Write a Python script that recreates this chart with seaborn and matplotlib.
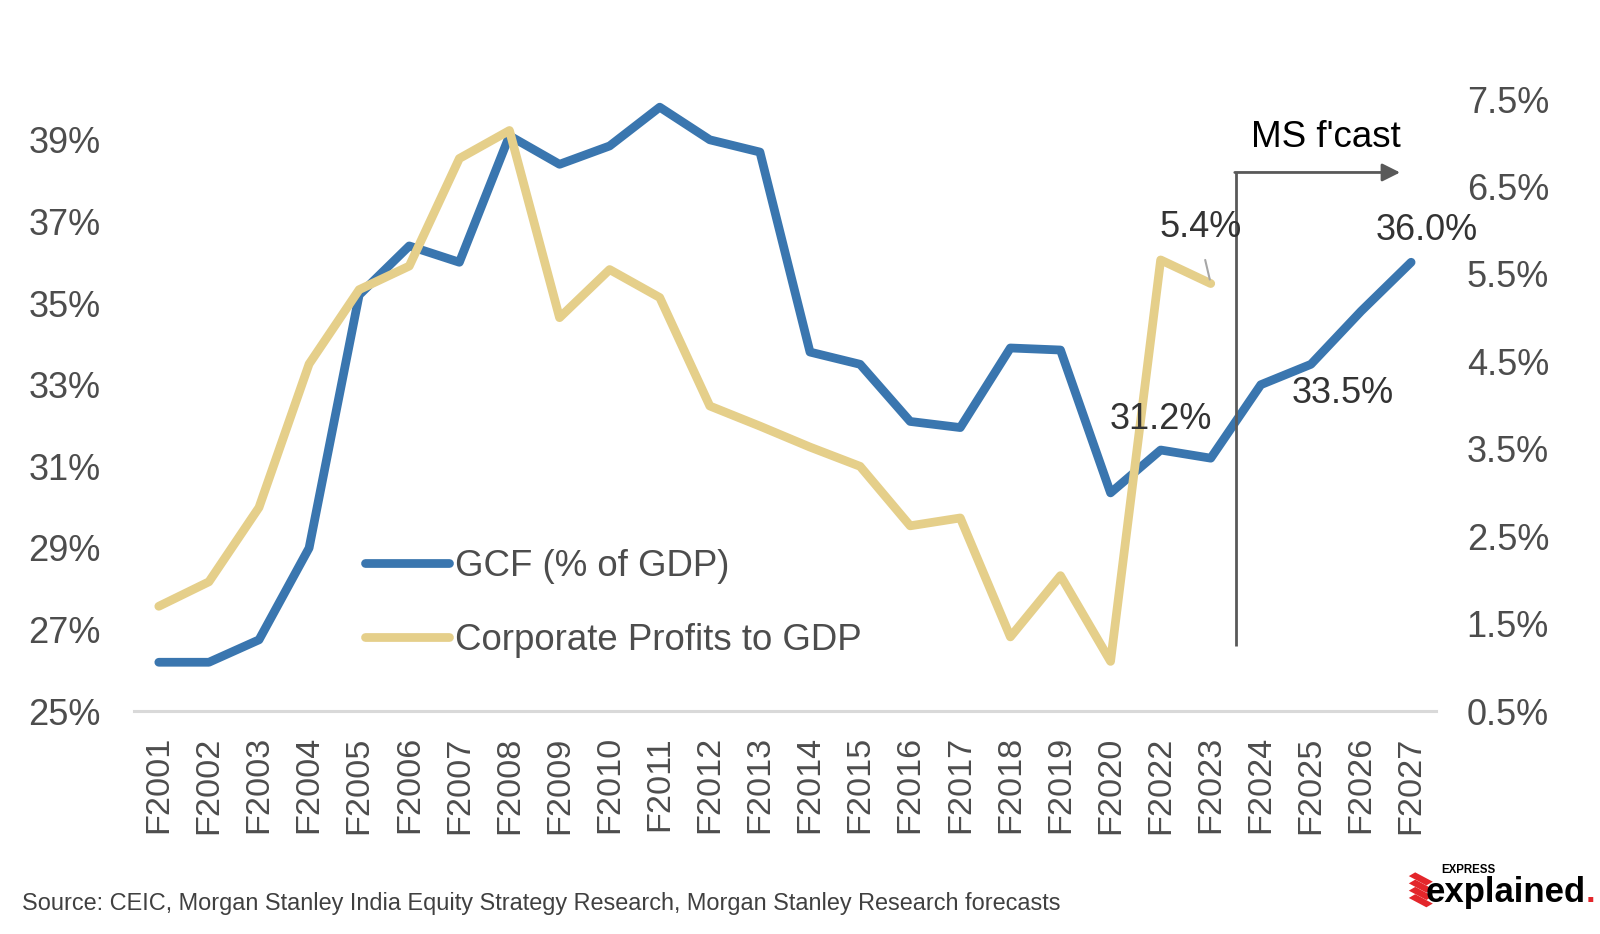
import numpy as np
import pandas as pd
import matplotlib
matplotlib.use("Agg")
import matplotlib.pyplot as plt
from matplotlib.patches import Polygon
import seaborn as sns

# ---------------- data ----------------
years = ["F2001", "F2002", "F2003", "F2004", "F2005", "F2006", "F2007", "F2008",
         "F2009", "F2010", "F2011", "F2012", "F2013", "F2014", "F2015", "F2016",
         "F2017", "F2018", "F2019", "F2020", "F2022", "F2023", "F2024", "F2025",
         "F2026", "F2027"]
gcf = [26.2, 26.2, 26.75, 29.0, 35.2, 36.4, 36.0, 39.1, 38.4, 38.85, 39.8, 39.0,
       38.7, 33.8, 33.5, 32.1, 31.95, 33.9, 33.85, 30.35, 31.4, 31.2, 33.0, 33.5,
       34.8, 36.0]
profits = [1.70, 1.98, 2.83, 4.47, 5.32, 5.59, 6.82, 7.14, 5.00, 5.55, 5.23, 3.99,
           3.76, 3.52, 3.30, 2.62, 2.71, 1.35, 2.05, 1.07, 5.66, 5.39,
           np.nan, np.nan, np.nan, np.nan]
left_ticks = [25, 27, 29, 31, 33, 35, 37, 39]
right_ticks = [0.5, 1.5, 2.5, 3.5, 4.5, 5.5, 6.5, 7.5]
series_names = ["GCF (% of GDP)", "Corporate Profits to GDP"]
source_text = ("Source: CEIC, Morgan Stanley India Equity Strategy Research, "
               "Morgan Stanley Research forecasts")

BLUE = "#3a76af"
GOLD = "#e5cf8a"
TXT = "#4d4d4d"
ARROW = "#595959"
FS = 26

sns.set_theme(style="white")
plt.rcParams["font.family"] = ["Liberation Sans", "DejaVu Sans"]

df = pd.DataFrame({"pos": np.arange(len(years)), "year": years,
                   "gcf": gcf, "profits": profits})

fig = plt.figure(figsize=(16, 9.34), dpi=100)
ax = fig.add_axes([0.0836, 0.2385, 0.814, 0.6555])
ax2 = ax.twinx()

sns.lineplot(data=df, x="pos", y="gcf", ax=ax, color=BLUE, linewidth=6.3,
             label=series_names[0], legend=False)
sns.lineplot(data=df.dropna(), x="pos", y="profits", ax=ax2, color=GOLD,
             linewidth=6.3, label=series_names[1], legend=False)
for a in (ax, ax2):
    for ln in a.lines:
        ln.set_solid_capstyle("round")
        ln.set_solid_joinstyle("round")

ax.set_xlim(-0.5, len(years) - 0.5)
ax.set_ylim(25, 40)
ax2.set_ylim(0.5, 7.5)
ax.set_xticks(df["pos"], years, rotation=90)
ax.set_yticks(left_ticks, [f"{v}%" for v in left_ticks])
ax2.set_yticks(right_ticks, [f"{v}%" for v in right_ticks])
ax.tick_params(axis="x", length=0, pad=18, labelsize=24.7, labelcolor=TXT)
ax.tick_params(axis="y", length=0, pad=24, labelsize=FS, labelcolor=TXT)
ax2.tick_params(axis="y", length=0, pad=22, labelsize=FS, labelcolor=TXT)
ax.set_xlabel("")
ax.set_ylabel("")
ax2.set_ylabel("")
ax.grid(False)
ax2.grid(False)
for a in (ax, ax2):
    for s in ("top", "left", "right"):
        a.spines[s].set_visible(False)
ax2.spines["bottom"].set_visible(False)
ax.spines["bottom"].set_color("#d9d9d9")
ax.spines["bottom"].set_linewidth(2.2)

# ---------------- annotations ----------------
i23 = years.index("F2023")
i25 = years.index("F2025")
i27 = years.index("F2027")
ax2.annotate(f"{gcf[i23]:.1f}%", xy=(i23, gcf[i23]), xycoords=ax.transData,
             xytext=(-36, 28), textcoords="offset points", ha="center",
             va="center", fontsize=FS, color="#333333")
ax2.annotate(f"{gcf[i25]:.1f}%", xy=(i25, gcf[i25]), xycoords=ax.transData,
             xytext=(23, -21), textcoords="offset points", ha="center",
             va="center", fontsize=FS, color="#333333")
ax2.annotate(f"{gcf[i27]:.1f}%", xy=(i27, gcf[i27]), xycoords=ax.transData,
             xytext=(11, 23), textcoords="offset points", ha="center",
             va="center", fontsize=FS, color="#333333")
ax2.annotate(f"{profits[i23]:.1f}%", xy=(i23, profits[i23]),
             xytext=(-7, 40), textcoords="offset points", ha="center",
             va="center", fontsize=FS, color="#333333")
ax2.annotate("", xy=(i23, profits[i23]), xytext=(-4, 17),
             textcoords="offset points",
             arrowprops=dict(arrowstyle="-", color="#a6a6a6", lw=1.5,
                             shrinkA=0, shrinkB=3))

# forecast marker
fc_x = i23 + 0.5
ax.plot([fc_x, fc_x], [26.6, 38.2], color=ARROW, lw=2, solid_capstyle="butt")
ax.annotate("", xy=(i27 - 0.22, 38.2), xytext=(fc_x - 0.02, 38.2),
            arrowprops=dict(arrowstyle="-|>,head_length=0.9,head_width=0.45",
                            color=ARROW, lw=2, shrinkA=0, shrinkB=0))
ax.text((fc_x + i27 - 0.22) / 2 + 0.15, 39.05, "MS f'cast", ha="center",
        va="center", fontsize=26.5, color="black")

# legend
handles = ax.lines[:1] + ax2.lines[:1]
leg = fig.legend(handles, series_names, loc="center left",
                 bbox_to_anchor=(0.228, 0.354), frameon=False, fontsize=26.4,
                 handlelength=2.3, handletextpad=0.15, labelspacing=1.05,
                 borderpad=0, borderaxespad=0)
for t in leg.get_texts():
    t.set_color(TXT)

# source
fig.text(0.014, 0.033, source_text, fontsize=16.9, color="#404040",
         ha="left", va="center")

# logo
red = "#e3262b"
for k in range(4):
    x0 = 0.8805
    y0 = 0.062 - k * 0.0078
    pts = [(x0, y0), (x0 + 0.004, y0 + 0.004), (x0 + 0.015, y0 - 0.006),
           (x0 + 0.011, y0 - 0.010)]
    fig.patches.append(Polygon(pts, closed=True, transform=fig.transFigure,
                               facecolor=red, edgecolor="none"))
fig.text(0.9005, 0.0685, "EXPRESS", fontsize=8.3, fontweight="bold",
         color="black", ha="left", va="center")
t_exp = fig.text(0.891, 0.044, "explained", fontsize=25, fontweight="bold",
                 color="black", ha="left", va="center")
ax.annotate(".", xy=(1.0, 0.0), xycoords=t_exp, xytext=(0, 0),
            textcoords="offset points", ha="left", va="bottom",
            fontsize=25, fontweight="bold", color=red, annotation_clip=False)

fig.savefig("out.png", dpi=100)
